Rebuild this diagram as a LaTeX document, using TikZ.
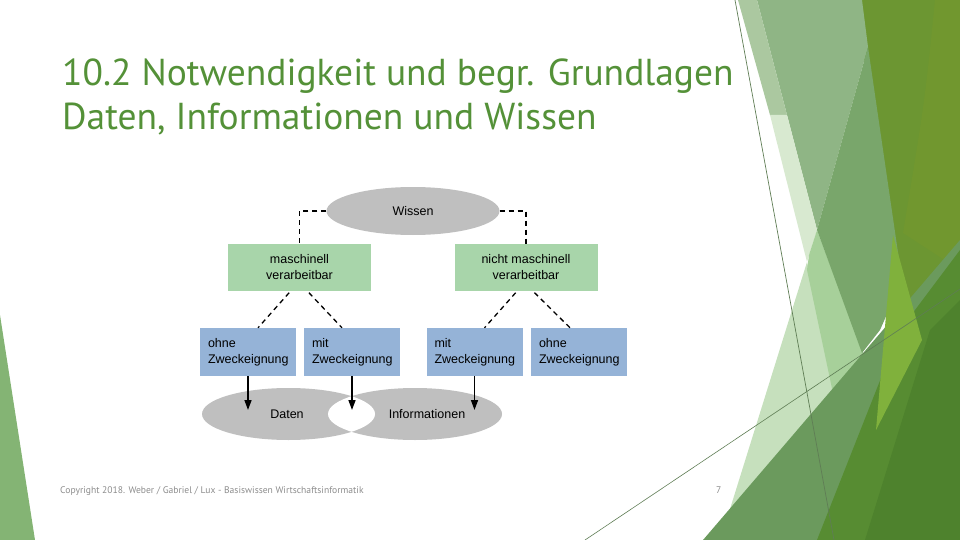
\documentclass[tikz,border=0pt]{standalone}
\usepackage{fontspec}
\setmainfont{PT Sans}
\newfontfamily\diafont{Liberation Sans}
\usetikzlibrary{shapes.geometric,arrows.meta}

\definecolor{titlegreen}{RGB}{84,145,56}
\definecolor{boxgreen}{RGB}{168,213,170}
\definecolor{boxblue}{RGB}{149,179,215}
\definecolor{ellgrey}{RGB}{191,191,191}
\definecolor{footgrey}{RGB}{140,140,140}
% colours of the facet shapes
\definecolor{facetolive}{RGB}{108,150,50}
\definecolor{facetolivelt}{RGB}{113,151,47}
\definecolor{facetgrey}{RGB}{143,181,133}
\definecolor{facetstrip}{RGB}{171,200,160}
\definecolor{facetwhite}{RGB}{216,233,208}
\definecolor{facetmid}{RGB}{121,166,107}
\definecolor{facetlight}{RGB}{167,208,154}
\definecolor{facetpale}{RGB}{198,224,189}
\definecolor{facetbright}{RGB}{128,177,60}
\definecolor{facetmain}{RGB}{107,154,93}
\definecolor{facetdeep}{RGB}{87,140,50}
\definecolor{facetdark}{RGB}{78,130,45}
\definecolor{facetleft}{RGB}{132,180,116}
\definecolor{facetline}{RGB}{95,125,85}

\tikzset{
  greenbox/.style={fill=boxgreen, minimum width=143pt, minimum height=47pt, align=center, inner sep=0pt},
  bluebox/.style={fill=boxblue, minimum width=96pt, minimum height=48pt, text width=80pt, inner xsep=8pt, inner ysep=0pt, align=left},
  greyell/.style={ellipse, fill=ellgrey, inner sep=0pt},
  dashline/.style={dash pattern=on 5pt off 4pt, line width=1.3pt},
  pointer/.style={line width=1.5pt, -{Triangle[length=10pt,width=7pt]}},
  diatext/.style={font=\diafont\fontsize{12.5}{16}\selectfont},
}

\begin{document}
\begin{tikzpicture}[x=1pt,y=-1pt]
\useasboundingbox (0,0) rectangle (960,540);

% facet shapes on the right
\fill[facetolive] (856,0) -- (960,0) -- (960,540) -- (930,540) -- cycle;
\fill[facetolivelt] (935,0) .. controls (925,100) .. (903,233) -- (960,270) -- (960,0) -- cycle;
\fill[facetgrey] (757,0) -- (862,0) -- (868,47) -- (817,230) -- cycle;
\fill[facetstrip] (738,0) -- (757,0) -- (787,115) -- (770,115) -- cycle;
\fill[facetwhite] (770,115) -- (787,115) -- (817,230) -- (807,262) -- cycle;
\fill[facetpale] (807,262) -- (850,440) -- (725,525) -- cycle;
\fill[facetlight] (809,255) -- (817,230) -- (866,360) -- (834,398) -- (807,270) -- cycle;
\fill[facetmid] (868,47) -- (902,280) -- (880,330) -- (862,353) -- (817,230) -- cycle;
\fill[facetmain] (703,540) -- (960,240) -- (960,540) -- cycle;
\fill[facetdeep] (900,330) -- (960,250) -- (960,540) -- (817,540) -- cycle;
\fill[facetdark] (930,330) -- (960,300) -- (960,540) -- (865,540) -- cycle;
\fill[facetbright] (893,235) -- (922,340) -- (876,430) -- cycle;
\fill[facetleft] (0,315) -- (35,540) -- (0,540) -- cycle;
\draw[facetline, line width=0.7pt] (735,0) -- (834,540);
\draw[facetline, line width=0.6pt] (585,540) -- (960,289);

% title
\node[anchor=base west, inner sep=0pt, text=titlegreen, font=\fontsize{37.5}{44}\selectfont] (title1) at (62,86) {10.2 Notwendigkeit und begr. Grundlagen};
\node[anchor=base west, inner sep=0pt, text=titlegreen, font=\fontsize{37.5}{44}\selectfont] (title2) at (62,130) {Daten, Informationen und Wissen};

% diagram
\node[greyell, minimum width=173pt, minimum height=48pt] (wissen) at (413,211) {};
\node[diatext] (wissentxt) at (413,211) {Wissen};

\node[greenbox, diatext] (mv) at (299.5,267.5) {maschinell\\verarbeitbar};
\node[greenbox, diatext] (nmv) at (526,267.5) {nicht maschinell\\verarbeitbar};

\node[bluebox, diatext] (o1) at (248,352) {ohne\\Zweckeignung};
\node[bluebox, diatext] (m1) at (352,352) {mit\\Zweckeignung};
\node[bluebox, diatext] (m2) at (474.5,352) {mit\\Zweckeignung};
\node[bluebox, diatext] (o2) at (579,352) {ohne\\Zweckeignung};

\node[greyell, minimum width=173pt, minimum height=52pt] (daten) at (288.5,414) {};
\node[greyell, minimum width=174pt, minimum height=52pt] (info) at (415,414) {};
\begin{scope}
  \clip (daten.center) ellipse [x radius=86.5pt, y radius=26pt];
  \fill[white] (info.center) ellipse [x radius=87pt, y radius=26pt];
\end{scope}
\node[diatext] (datentxt) at (287,414) {Daten};
\node[diatext] (infotxt) at (427,414) {Informationen};

\draw[dashline] (wissen.west) -| (mv.north);
\draw[dashline] (wissen.east) -| (nmv.north);

\draw[dashline, shorten <=2pt] ([xshift=-9pt]mv.south) -- ([xshift=10pt]o1.north);
\draw[dashline, shorten <=2pt] ([xshift=8pt]mv.south) -- ([xshift=-10pt]m1.north);
\draw[dashline, shorten <=2pt] ([xshift=-9pt]nmv.south) -- ([xshift=10pt]m2.north);
\draw[dashline, shorten <=2pt] ([xshift=7pt]nmv.south) -- ([xshift=-9pt]o2.north);

\coordinate (arrowend) at (0,410);
\draw[pointer] (o1.south) -- (o1.south |- arrowend);
\draw[pointer] (m1.south) -- (m1.south |- arrowend);
\draw[pointer] (m2.south) -- (m2.south |- arrowend);

% footer
\node[anchor=base west, inner sep=0pt, text=footgrey, font=\fontsize{9.6}{11}\selectfont] (foot) at (60,493) {Copyright 2018. Weber / Gabriel / Lux - Basiswissen Wirtschaftsinformatik};
\node[anchor=base west, inner sep=0pt, text=footgrey, font=\fontsize{9.6}{11}\selectfont] (pagenum) at (716,493) {7};
\end{tikzpicture}
\end{document}
